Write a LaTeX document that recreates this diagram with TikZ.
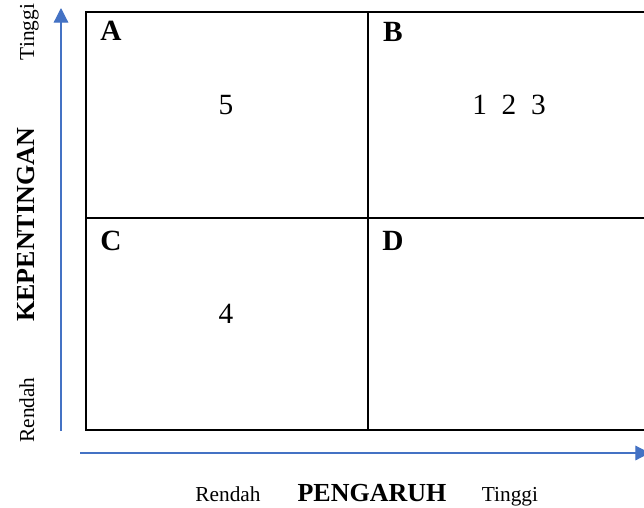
\documentclass[tikz,border=0pt]{standalone}
\usepackage{fontspec}
\setmainfont{Liberation Serif}
\usetikzlibrary{arrows.meta,positioning}
\definecolor{axisblue}{HTML}{4472C4}

\begin{document}
\begin{tikzpicture}[
      x=0.75pt, y=-0.75pt,
      quad/.style={font=\fontsize{22}{26}\selectfont\bfseries, inner sep=0pt},
      num/.style={font=\fontsize{22}{26}\selectfont, inner sep=0pt},
      lvl/.style={font=\fontsize{16}{19}\selectfont, inner sep=0pt, anchor=base},
      ttl/.style={font=\fontsize{19.5}{23}\selectfont\bfseries, inner sep=0pt, anchor=base},
      axis/.style={-{Triangle[length=11pt, width=11pt]}, axisblue, line width=0.9pt},
      cell/.style={line width=1.5pt}
    ]
    \useasboundingbox (0,0) rectangle (644,508);

    % the four quadrants
    \coordinate (nw) at (86,12);
    \coordinate (se) at (654,430);
    \draw[cell] (nw) rectangle (se);
    \draw[cell] (368,12) -- (368,430);
    \draw[cell] (86,218) -- (654,218);

    \node[quad] (qa) at (111,31) {A};
    \node[quad] (qb) at (393,32) {B};
    \node[quad] (qc) at (111,241) {C};
    \node[quad] (qd) at (393,241) {D};

    \node[num] (na) at (226,105) {5};
    \node[num] (nb) at (509,105) {1\enspace 2\enspace 3};
    \node[num] (nc) at (226,314) {4};

    % axes
    \coordinate (yfoot) at (61,431);
    \coordinate (ytop) at (61,8);
    \coordinate (xfoot) at (80,453);
    \coordinate (xend) at (650,453);
    \draw[axis] (yfoot) -- (ytop);
    \draw[axis] (xfoot) -- (xend);

    \node[lvl, rotate=90] (yhigh) at (34,32) {Tinggi};
    \node[lvl, rotate=90] (ylow) at (34,410) {Rendah};
    \node[ttl, rotate=90] (ytitle) at (35,225) {KEPENTINGAN};

    \node[lvl] (xlow) at (228,501) {Rendah};
    \node[ttl] (xtitle) at (372,501) {PENGARUH};
    \node[lvl] (xhigh) at (510,501) {Tinggi};
  \end{tikzpicture}
\end{document}
